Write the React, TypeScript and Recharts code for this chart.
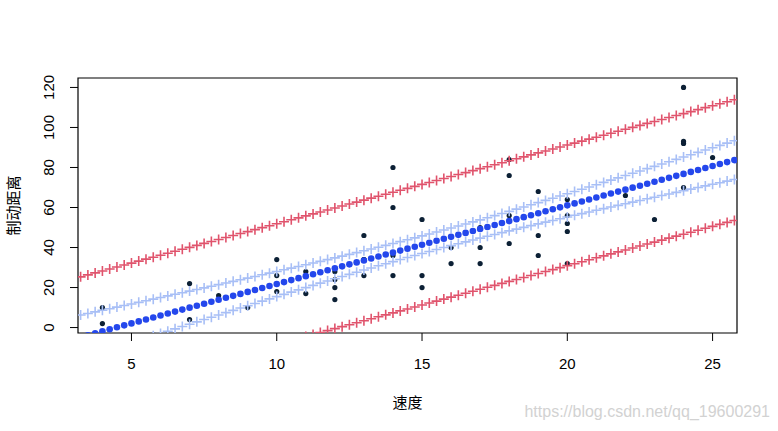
import React from 'react';
import { ScatterChart, Scatter, XAxis, YAxis, ReferenceArea, Label } from 'recharts';

// cars data: speed vs stopping distance
const speed = [4, 4, 7, 7, 8, 9, 10, 10, 10, 11, 11, 12, 12, 12, 12, 13, 13, 13, 13, 14, 14, 14, 14, 15, 15, 15, 16, 16, 17, 17, 17, 18, 18, 18, 18, 19, 19, 19, 20, 20, 20, 20, 20, 22, 23, 24, 24, 24, 24, 25];
const dist = [2, 10, 4, 22, 16, 10, 18, 26, 34, 17, 28, 14, 20, 24, 28, 26, 34, 34, 46, 26, 36, 60, 80, 20, 26, 54, 32, 40, 32, 40, 50, 42, 56, 76, 84, 36, 46, 68, 32, 48, 52, 56, 64, 66, 54, 70, 92, 93, 120, 85];

// grid of speeds used for the fitted curves
const gridX = [
  3.25, 3.5, 3.75, 4, 4.25, 4.5, 4.75, 5, 5.25, 5.5,
  5.75, 6, 6.25, 6.5, 6.75, 7, 7.25, 7.5, 7.75, 8,
  8.25, 8.5, 8.75, 9, 9.25, 9.5, 9.75, 10, 10.25, 10.5,
  10.75, 11, 11.25, 11.5, 11.75, 12, 12.25, 12.5, 12.75, 13,
  13.25, 13.5, 13.75, 14, 14.25, 14.5, 14.75, 15, 15.25, 15.5,
  15.75, 16, 16.25, 16.5, 16.75, 17, 17.25, 17.5, 17.75, 18,
  18.25, 18.5, 18.75, 19, 19.25, 19.5, 19.75, 20, 20.25, 20.5,
  20.75, 21, 21.25, 21.5, 21.75, 22, 22.25, 22.5, 22.75, 23,
  23.25, 23.5, 23.75, 24, 24.25, 24.5, 24.75, 25, 25.25, 25.5,
  25.75,
];
const fit = [
  -4.8, -3.82, -2.83, -1.85, -0.87, 0.12, 1.1, 2.08, 3.07, 4.05,
  5.03, 6.02, 7.0, 7.98, 8.97, 9.95, 10.93, 11.91, 12.9, 13.88,
  14.86, 15.85, 16.83, 17.81, 18.8, 19.78, 20.76, 21.74, 22.73, 23.71,
  24.7, 25.68, 26.66, 27.64, 28.63, 29.61, 30.59, 31.58, 32.56, 33.54,
  34.53, 35.51, 36.49, 37.47, 38.46, 39.44, 40.42, 41.41, 42.39, 43.37,
  44.36, 45.34, 46.32, 47.3, 48.29, 49.27, 50.25, 51.24, 52.22, 53.2,
  54.19, 55.17, 56.15, 57.14, 58.12, 59.1, 60.08, 61.07, 62.05, 63.03,
  64.02, 65.0, 65.98, 66.97, 67.95, 68.93, 69.91, 70.9, 71.88, 72.86,
  73.85, 74.83, 75.81, 76.8, 77.78, 78.76, 79.75, 80.73, 81.71, 82.69,
  83.68,
];
const ciLower = [
  -15.85, -14.68, -13.5, -12.33, -11.16, -9.98, -8.81, -7.65, -6.47, -5.31,
  -4.14, -2.97, -1.81, -0.65, 0.52, 1.68, 2.84, 3.99, 5.16, 6.31,
  7.46, 8.61, 9.76, 10.9, 12.05, 13.19, 14.33, 15.46, 16.6, 17.72,
  18.85, 19.97, 21.08, 22.19, 23.3, 24.4, 25.49, 26.58, 27.66, 28.73,
  29.8, 30.86, 31.9, 32.94, 33.98, 35.0, 36.01, 37.02, 38.01, 39.0,
  39.98, 40.94, 41.89, 42.83, 43.77, 44.7, 45.61, 46.53, 47.43, 48.32,
  49.21, 50.09, 50.96, 51.83, 52.69, 53.54, 54.39, 55.25, 56.09, 56.92,
  57.77, 58.6, 59.42, 60.25, 61.07, 61.89, 62.71, 63.53, 64.34, 65.15,
  65.97, 66.77, 67.58, 68.39, 69.19, 69.99, 70.8, 71.59, 72.39, 73.19,
  73.99,
];
const ciUpper = [
  6.25, 7.04, 7.84, 8.63, 9.42, 10.22, 11.01, 11.81, 12.61, 13.41,
  14.2, 15.01, 15.81, 16.61, 17.42, 18.22, 19.02, 19.83, 20.64, 21.45,
  22.26, 23.09, 23.9, 24.72, 25.55, 26.37, 27.19, 28.02, 28.86, 29.7,
  30.55, 31.39, 32.24, 33.09, 33.96, 34.82, 35.69, 36.58, 37.46, 38.35,
  39.26, 40.16, 41.08, 42.0, 42.94, 43.88, 44.83, 45.8, 46.77, 47.74,
  48.74, 49.74, 50.75, 51.77, 52.81, 53.84, 54.89, 55.95, 57.01, 58.08,
  59.17, 60.25, 61.34, 62.45, 63.55, 64.66, 65.77, 66.89, 68.01, 69.14,
  70.27, 71.4, 72.54, 73.69, 74.83, 75.97, 77.11, 78.27, 79.42, 80.57,
  81.73, 82.89, 84.04, 85.21, 86.37, 87.53, 88.7, 89.87, 91.03, 92.19,
  93.37,
];
const piLower = [
  -34.94, -33.96, -32.97, -31.99, -31.01, -30.02, -29.04, -28.06, -27.07, -26.09,
  -25.11, -24.12, -23.14, -22.16, -21.17, -20.19, -19.21, -18.23, -17.24, -16.26,
  -15.28, -14.29, -13.31, -12.33, -11.34, -10.36, -9.38, -8.4, -7.41, -6.43,
  -5.44, -4.46, -3.48, -2.5, -1.51, -0.53, 0.45, 1.44, 2.42, 3.4,
  4.39, 5.37, 6.35, 7.33, 8.32, 9.3, 10.28, 11.27, 12.25, 13.23,
  14.22, 15.2, 16.18, 17.16, 18.15, 19.13, 20.11, 21.1, 22.08, 23.06,
  24.05, 25.03, 26.01, 27.0, 27.98, 28.96, 29.94, 30.93, 31.91, 32.89,
  33.88, 34.86, 35.84, 36.83, 37.81, 38.79, 39.77, 40.76, 41.74, 42.72,
  43.71, 44.69, 45.67, 46.66, 47.64, 48.62, 49.61, 50.59, 51.57, 52.55,
  53.54,
];
const piUpper = [
  25.34, 26.32, 27.31, 28.29, 29.27, 30.26, 31.24, 32.22, 33.21, 34.19,
  35.17, 36.16, 37.14, 38.12, 39.11, 40.09, 41.07, 42.05, 43.04, 44.02,
  45.0, 45.99, 46.97, 47.95, 48.94, 49.92, 50.9, 51.88, 52.87, 53.85,
  54.84, 55.82, 56.8, 57.78, 58.77, 59.75, 60.73, 61.72, 62.7, 63.68,
  64.67, 65.65, 66.63, 67.61, 68.6, 69.58, 70.56, 71.55, 72.53, 73.51,
  74.5, 75.48, 76.46, 77.44, 78.43, 79.41, 80.39, 81.38, 82.36, 83.34,
  84.33, 85.31, 86.29, 87.28, 88.26, 89.24, 90.22, 91.21, 92.19, 93.17,
  94.16, 95.14, 96.12, 97.11, 98.09, 99.07, 100.05, 101.04, 102.02, 103.0,
  103.99, 104.97, 105.95, 106.94, 107.92, 108.9, 109.89, 110.87, 111.85, 112.83,
  113.82,
];

const xTicks = [5, 10, 15, 20, 25];
const yTicks = [0, 20, 40, 60, 80, 100, 120];
const xTitle = '速度';
const yTitle = '制动距离';
const watermark = 'https://blog.csdn.net/qq_19600291';

const xDomain = [3.16, 25.84];
const yDomain = [-2.72, 124.72];

const toPoints = (xs: number[], ys: number[]) => xs.map((x, i) => ({ x, y: ys[i] }));

const obsData = toPoints(speed, dist);
const fitData = toPoints(gridX, fit);
const ciLoData = toPoints(gridX, ciLower);
const ciHiData = toPoints(gridX, ciUpper);
const piLoData = toPoints(gridX, piLower);
const piHiData = toPoints(gridX, piUpper);

const RED = '#e0536c';
const LIGHT_BLUE = '#a8bff6';
const BLUE = '#2447ec';
const DARK = '#0c2035';
const FONT = '"Liberation Sans", Arial, sans-serif';
const CJK = '"Noto Sans CJK SC", sans-serif';

const plus = (color: string) => (props: any) => {
  const { cx, cy } = props;
  if (cx == null || cy == null) return <g />;
  return (
    <path
      d={`M${cx - 5},${cy}H${cx + 5}M${cx},${cy - 5}V${cy + 5}`}
      stroke={color}
      strokeWidth={1.6}
      fill="none"
    />
  );
};

const dot = (color: string, r: number) => (props: any) => {
  const { cx, cy } = props;
  if (cx == null || cy == null) return <g />;
  return <circle cx={cx} cy={cy} r={r} fill={color} />;
};

const YTick = (props: any) => {
  const { x, y, payload } = props;
  return (
    <text
      x={x}
      y={y}
      transform={`rotate(-90 ${x} ${y})`}
      textAnchor="middle"
      fontSize={15}
      fontFamily={FONT}
      fill="#000"
    >
      {payload.value}
    </text>
  );
};

const XTitle = (props: any) => {
  const vb = props.viewBox;
  return (
    <text x={vb.x + vb.width / 2} y={vb.y + 68} textAnchor="middle" dominantBaseline="central"
      fontSize={15} fontFamily={CJK} fill="#000">
      {xTitle}
    </text>
  );
};

const YTitle = (props: any) => {
  const vb = props.viewBox;
  const cx = 12.5;
  const cy = vb.y + vb.height / 2;
  return (
    <text x={cx} y={cy} transform={`rotate(-90 ${cx} ${cy})`} textAnchor="middle" dominantBaseline="central"
      fontSize={15} fontFamily={CJK} fill="#000">
      {yTitle}
    </text>
  );
};

export default function App() {
  return (
    <div style={{ position: 'absolute', left: 0, top: 0, width: 778, height: 431, background: '#fff' }}>
      <ScatterChart width={778} height={431} margin={{ top: 78, right: 41, bottom: 0, left: 0 }}>
        <XAxis
          type="number"
          dataKey="x"
          domain={xDomain}
          ticks={xTicks}
          allowDataOverflow
          height={98}
          axisLine={false}
          tickLine={{ stroke: '#000' }}
          tickSize={8}
          tickMargin={17}
          tick={{ fill: '#000', fontSize: 15, fontFamily: FONT }}
        >
          <Label content={<XTitle />} />
        </XAxis>
        <YAxis
          type="number"
          dataKey="y"
          domain={yDomain}
          ticks={yTicks}
          allowDataOverflow
          width={78}
          axisLine={false}
          tickLine={{ stroke: '#000' }}
          tickSize={8}
          tickMargin={16}
          tick={<YTick />}
        >
          <Label content={<YTitle />} />
        </YAxis>
        <ReferenceArea x1={xDomain[0]} x2={xDomain[1]} y1={yDomain[0]} y2={yDomain[1]}
          fill="none" stroke="#000" strokeWidth={1.2} fillOpacity={0} />
        <Scatter data={obsData} shape={dot(DARK, 2.6)} isAnimationActive={false} />
        <Scatter data={fitData} shape={dot(BLUE, 3.3)} isAnimationActive={false} />
        <Scatter data={ciLoData} shape={plus(LIGHT_BLUE)} isAnimationActive={false} />
        <Scatter data={ciHiData} shape={plus(LIGHT_BLUE)} isAnimationActive={false} />
        <Scatter data={piLoData} shape={plus(RED)} isAnimationActive={false} />
        <Scatter data={piHiData} shape={plus(RED)} isAnimationActive={false} />
      </ScatterChart>
      <div
        style={{
          position: 'absolute',
          right: 8,
          top: 403,
          fontSize: 16,
          fontFamily: FONT,
          color: '#d2d2d2',
          whiteSpace: 'nowrap',
        }}
      >
        {watermark}
      </div>
    </div>
  );
}
